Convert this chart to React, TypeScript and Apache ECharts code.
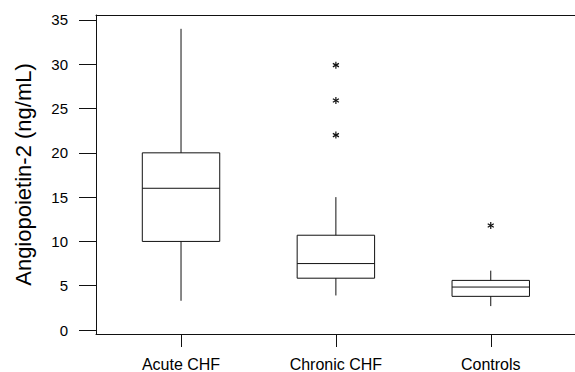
import React, { useEffect, useRef } from "react";
import * as echarts from "echarts";

const categories = ["Acute CHF", "Chronic CHF", "Controls"];
// [low whisker, Q1, median, Q3, high whisker]
const boxValues = [
  [3.3, 10.0, 16.0, 20.0, 34.0],
  [3.9, 5.85, 7.5, 10.7, 15.0],
  [2.7, 3.8, 4.85, 5.6, 6.7],
];
// [category index, value]
const outliers = [
  [1, 29.9],
  [1, 25.9],
  [1, 22.0],
  [2, 11.8],
];
const yTicks = [0, 5, 10, 15, 20, 25, 30, 35];

const FONT = "'Liberation Sans', Arial, sans-serif";
const INK = "#111";

export default function App() {
  const ref = useRef<HTMLDivElement>(null);
  useEffect(() => {
    if (!ref.current) return;
    const chart = echarts.init(ref.current, undefined, { renderer: "svg" });
    const boxData = boxValues.map((b, i) => [i, ...b]);
    chart.setOption({
      animation: false,
      backgroundColor: "#fff",
      grid: {
        left: 96,
        right: 0,
        top: 15,
        bottom: 37,
        show: false,
      },
      xAxis: [
        {
          type: "value",
          min: -0.549,
          max: 2.544,
          axisLine: { show: true, onZero: false, lineStyle: { color: INK, width: 1 } },
          axisTick: { show: true, length: 13, customValues: [0, 1, 2], lineStyle: { color: INK } },
          axisLabel: {
            show: true,
            customValues: [0, 1, 2],
            formatter: (v: number) => categories[Math.round(v)] ?? "",
            margin: 22,
            color: "#000",
            fontFamily: FONT,
            fontSize: 16,
          },
          splitLine: { show: false },
        },
        {
          type: "value",
          position: "top",
          min: -0.549,
          max: 2.544,
          axisLine: { show: true, onZero: false, lineStyle: { color: INK, width: 1 } },
          axisTick: { show: false },
          axisLabel: { show: false },
          splitLine: { show: false },
        },
      ],
      yAxis: {
        type: "value",
        min: -0.45,
        max: 35.56,
        name: "Angiopoietin-2 (ng/mL)",
        nameLocation: "middle",
        nameGap: 62,
        nameTextStyle: { color: "#000", fontFamily: FONT, fontSize: 22 },
        axisLine: { show: true, onZero: false, lineStyle: { color: INK, width: 1 } },
        axisTick: { show: true, length: 17, customValues: yTicks, lineStyle: { color: INK } },
        axisLabel: {
          show: true,
          customValues: yTicks,
          margin: 28,
          color: "#000",
          fontFamily: FONT,
          fontSize: 15,
        },
        splitLine: { show: false },
      },
      series: [
        {
          type: "custom",
          name: "box",
          xAxisIndex: 0,
          data: boxData,
          encode: { x: 0, y: [1, 2, 3, 4, 5] },
          renderItem: (params: any, api: any) => {
            const x = api.value(0);
            const lo = api.coord([x, api.value(1)]);
            const q1 = api.coord([x, api.value(2)]);
            const med = api.coord([x, api.value(3)]);
            const q3 = api.coord([x, api.value(4)]);
            const hi = api.coord([x, api.value(5)]);
            const hw = api.size([0.25, 0])[0];
            const style = { stroke: INK, lineWidth: 1, fill: null };
            return {
              type: "group",
              children: [
                { type: "line", shape: { x1: q3[0], y1: q3[1], x2: hi[0], y2: hi[1] }, style },
                { type: "line", shape: { x1: lo[0], y1: lo[1], x2: q1[0], y2: q1[1] }, style },
                {
                  type: "rect",
                  shape: { x: q3[0] - hw, y: q3[1], width: hw * 2, height: q1[1] - q3[1] },
                  style: { stroke: INK, lineWidth: 1, fill: "rgba(0,0,0,0)" },
                },
                { type: "line", shape: { x1: med[0] - hw, y1: med[1], x2: med[0] + hw, y2: med[1] }, style },
              ],
            };
          },
        },
        {
          type: "custom",
          name: "outliers",
          xAxisIndex: 0,
          data: outliers,
          encode: { x: 0, y: 1 },
          renderItem: (params: any, api: any) => {
            const p = api.coord([api.value(0), api.value(1)]);
            const r = 3.5;
            const style = { stroke: INK, lineWidth: 1.2 };
            const c = Math.cos(Math.PI / 6) * r;
            const s = Math.sin(Math.PI / 6) * r;
            return {
              type: "group",
              children: [
                { type: "line", shape: { x1: p[0], y1: p[1] - r, x2: p[0], y2: p[1] + r }, style },
                { type: "line", shape: { x1: p[0] - c, y1: p[1] - s, x2: p[0] + c, y2: p[1] + s }, style },
                { type: "line", shape: { x1: p[0] - c, y1: p[1] + s, x2: p[0] + c, y2: p[1] - s }, style },
              ],
            };
          },
        },
      ],
    });
    return () => chart.dispose();
  }, []);
  return (
    <div
      ref={ref}
      style={{ position: "fixed", left: 0, top: 0, width: 575, height: 372 }}
    />
  );
}
